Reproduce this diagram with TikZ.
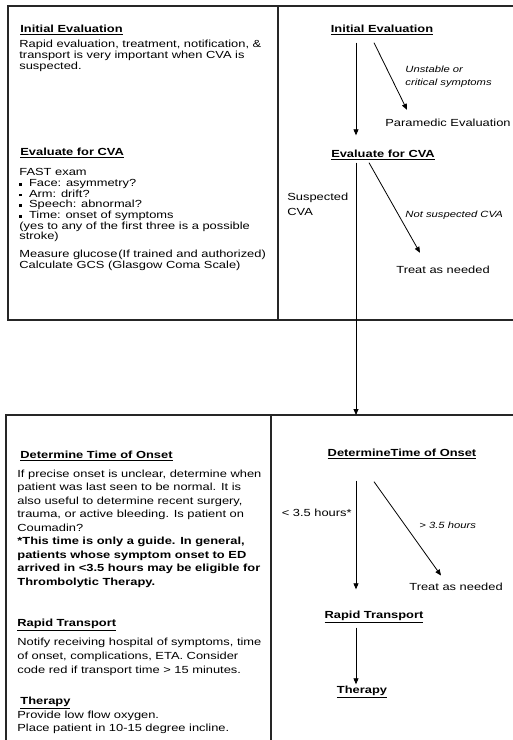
\documentclass[tikz,border=0pt]{standalone}
\usepackage{fontspec}
\setmainfont{Liberation Sans}[FakeStretch=1.25]
\usetikzlibrary{arrows.meta}

\tikzset{
    frame/.style={draw, line width=1.2pt, black!85},
    head/.style={font=\bfseries, inner sep=0pt},
    body/.style={align=left, inner sep=0pt, anchor=north west},
    flowlabel/.style={inner sep=0pt, align=left},
    cond/.style={inner sep=0pt, align=left, font=\itshape\fontsize{9}{13}\selectfont}
}
\newcommand{\sqbullet}{\rule[0.8pt]{2.7pt}{2.7pt}\hspace{7pt}}

\begin{document}
\fontsize{10.3}{11}\selectfont
\begin{tikzpicture}[x=1pt, y=-1pt, >={Triangle[width=5pt,length=6pt]}, line width=0.8pt]
            \useasboundingbox (0,0) rectangle (513,740);
            \clip (0,0) rectangle (513,740);

            % frames
            \draw[frame] (8,6) rectangle (540,320);
            \draw[frame] (278,6) -- (278,320);
            \draw[frame] (6,415) rectangle (540,760);
            \draw[frame] (271,415) -- (271,760);

            % left column, top
            \node[head, anchor=base west] (iniL) at (20,32.6) {\underline{Initial Evaluation}};
            \node[body] (iniTxt) at (19,39.2) {Rapid evaluation, treatment, notification, \&\\
                transport is very important when CVA is\\suspected.};
            \node[head, anchor=base west] (evalL) at (20,155.6) {\underline{Evaluate for CVA}};
            \node[body, font=\fontsize{10.3}{10.7}\selectfont] (fast) at (19,168.2) {FAST exam\\
                \sqbullet Face: asymmetry?\\
                \sqbullet Arm: drift?\\
                \sqbullet Speech: abnormal?\\
                \sqbullet Time: onset of symptoms\\
                (yes to any of the first three is a possible\\stroke)};
            \node[body, font=\fontsize{10.3}{11.5}\selectfont] (gcs) at (19,249.2) {Measure glucose\kern1pt(If trained and authorized)\\
                Calculate GCS (Glasgow Coma Scale)};

            % left column, bottom
            \node[head, anchor=base west] (detL) at (20,458.6) {\underline{Determine Time of Onset}};
            \node[body, font=\fontsize{10.3}{13.5}\selectfont] (detTxt) at (17,469.5) {If precise onset is unclear, determine when\\
                patient was last seen to be normal. It is\\
                also useful to determine recent surgery,\\
                trauma, or active bleeding. Is patient on\\
                Coumadin?\\
                \textbf{*This time is only a guide. In general,}\\
                \textbf{patients whose symptom onset to ED}\\
                \textbf{arrived in <3.5 hours may be eligible for}\\
                \textbf{Thrombolytic Therapy.}};
            \node[head, anchor=base west] (rapL) at (17,626.6) {\underline{Rapid Transport}};
            \node[body, font=\fontsize{10.3}{14}\selectfont] (rapTxt) at (17,638) {Notify receiving hospital of symptoms, time\\
                of onset, complications, ETA. Consider\\
                code red if transport time > 15 minutes.};
            \node[head, anchor=base west] (thL) at (20,704.6) {\underline{Therapy}};
            \node[body, font=\fontsize{10.3}{13.5}\selectfont] (thTxt) at (17,710.2) {Provide low flow oxygen.\\
                Place patient in 10-15 degree incline.};

            % right column, flow
            \coordinate (spine) at (356,0);
            \coordinate (btop) at (356,415);
            \node[head] (iniR) at (382,30) {\underline{Initial Evaluation}};
            \node[cond, anchor=west] (unst) at (405,76.5) {Unstable or\\critical symptoms};
            \node[flowlabel, anchor=west] (para) at (385,123) {Paramedic Evaluation};
            \node[head] (evalR) at (383,155) {\underline{Evaluate for CVA}};
            \node[flowlabel, anchor=west, font=\fontsize{10.3}{15}\selectfont] (susp) at (287,204.5) {Suspected\\CVA};
            \node[cond, anchor=west] (nots) at (405,215) {Not suspected CVA};
            \node[flowlabel, anchor=west] (treatA) at (396,270) {Treat as needed};

            \node[head] (detR) at (402,454) {\underline{DetermineTime of Onset}};
            \node[flowlabel, anchor=east] (lt) at (352,513) {< 3.5 hours*};
            \node[cond, anchor=west] (gt) at (419,525) {> 3.5 hours};
            \node[flowlabel, anchor=west] (treatB) at (409,587) {Treat as needed};
            \node[head] (rapR) at (374,617) {\underline{Rapid Transport}};
            \node[head] (thR) at (362,692) {\underline{Therapy}};

            \path
            (iniR.south -| spine)                     edge[->, shorten <=7.5pt, shorten >=14.5pt] (evalR.north -| spine)
            ([xshift=-8pt,yshift=-7.5pt]iniR.south)   edge[->] ([xshift=22pt,yshift=9pt]para.north west)
            (evalR.south -| spine)                    edge[->, shorten <=2.5pt] (btop)
            ([xshift=-14pt,yshift=-2.5pt]evalR.south) edge[->] ([xshift=24pt,yshift=13pt]treatA.north west)
            (detR.south -| spine)                     edge[->, shorten <=21.5pt, shorten >=21.5pt] (rapR.north -| spine)
            ([xshift=-28pt,yshift=-22.5pt]detR.south) edge[->] ([xshift=32pt,yshift=7.3pt]treatB.north west)
            (rapR.south -| spine)                     edge[->, shorten <=4.5pt, shorten >=1.5pt] (thR.north -| spine);
        \end{tikzpicture}
\end{document}
